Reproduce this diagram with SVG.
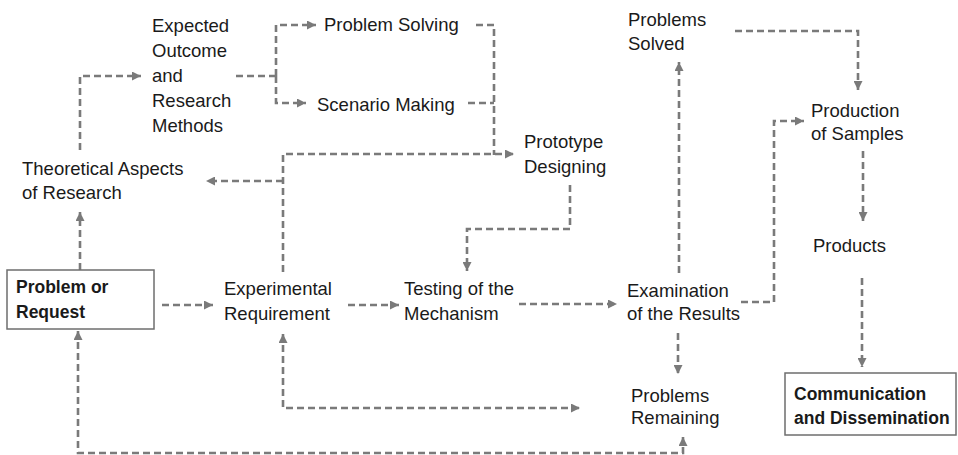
<svg xmlns="http://www.w3.org/2000/svg" width="958" height="455" viewBox="0 0 958 455">
<style>
text{font-family:"Liberation Sans",Arial,sans-serif;font-size:18.5px;fill:#1a1a1a}
.b{font-weight:bold;font-size:17.5px}
.box{fill:#fff;stroke:#6e6e6e;stroke-width:1.5}
#connectors path{fill:none;stroke:#7a7a7a;stroke-width:2.6;stroke-dasharray:7 4}
.a{marker-end:url(#ah)}
.aa{marker-end:url(#ah);marker-start:url(#ahs)}
</style>
<defs>
<marker id="ah" viewBox="0 0 10 10" refX="10" refY="5" markerWidth="9" markerHeight="9" markerUnits="userSpaceOnUse" orient="auto"><path d="M0,0 L10,5 L0,10 z" fill="#7a7a7a"/></marker>
<marker id="ahs" viewBox="0 0 10 10" refX="10" refY="5" markerWidth="9" markerHeight="9" markerUnits="userSpaceOnUse" orient="auto-start-reverse"><path d="M0,0 L10,5 L0,10 z" fill="#7a7a7a"/></marker>
</defs>
<rect width="958" height="455" fill="#fff"/>
<g id="connectors">
<path class="a" d="M80,270 V212"/>
<path class="a" d="M80,150 V76 H141"/>
<path d="M236,76 H276"/>
<path class="a" d="M276,76 V25 H316"/>
<path class="a" d="M276,76 V103 H306"/>
<path d="M476,25 H494 V155"/>
<path d="M468,103 H494"/>
<path class="a" d="M283,272 V154 H514"/>
<path class="a" d="M283,181 H206"/>
<path class="a" d="M570,185 V229 H467 V271"/>
<path class="a" d="M162,305 H213"/>
<path class="a" d="M348,305 H399"/>
<path class="a" d="M519,304 H617"/>
<path class="a" d="M679,273 V62"/>
<path class="a" d="M741,302 H774 V121 H804"/>
<path class="a" d="M735,31 H858 V90"/>
<path class="a" d="M863,151 V221"/>
<path class="a" d="M862,278 V367"/>
<path class="a" d="M678,333 V374"/>
<path class="aa" d="M283,334 V408 H580"/>
<path class="aa" d="M78,331 V453 H683 V437"/>
</g>
<g id="expected"><text x="152" y="32">Expected</text><text x="152" y="57">Outcome</text><text x="152" y="82">and</text><text x="152" y="107">Research</text><text x="152" y="132">Methods</text></g>
<g id="theoretical"><text x="22" y="175">Theoretical Aspects</text><text x="22" y="199">of Research</text></g>
<g id="problemSolving"><text x="324" y="31">Problem Solving</text></g>
<g id="scenario"><text x="317" y="111">Scenario Making</text></g>
<g id="prototype"><text x="524" y="148">Prototype</text><text x="524" y="173">Designing</text></g>
<g id="solved"><text x="628" y="26">Problems</text><text x="628" y="50">Solved</text></g>
<g id="production"><text x="811" y="117">Production</text><text x="811" y="140">of Samples</text></g>
<g id="products"><text x="813" y="252">Products</text></g>
<g id="problem"><rect class="box" x="7" y="270" width="147" height="59"/><text class="b" x="16" y="293">Problem or</text><text class="b" x="16" y="318">Request</text></g>
<g id="experimental"><text x="224" y="295">Experimental</text><text x="224" y="320">Requirement</text></g>
<g id="testing"><text x="404" y="295">Testing of the</text><text x="404" y="320">Mechanism</text></g>
<g id="examination"><text x="627" y="297">Examination</text><text x="627" y="320">of the Results</text></g>
<g id="remaining"><text x="631" y="402">Problems</text><text x="631" y="424">Remaining</text></g>
<g id="communication"><rect class="box" x="785" y="373" width="171" height="62"/><text class="b" x="794" y="400">Communication</text><text class="b" x="794" y="424">and Dissemination</text></g>
</svg>
